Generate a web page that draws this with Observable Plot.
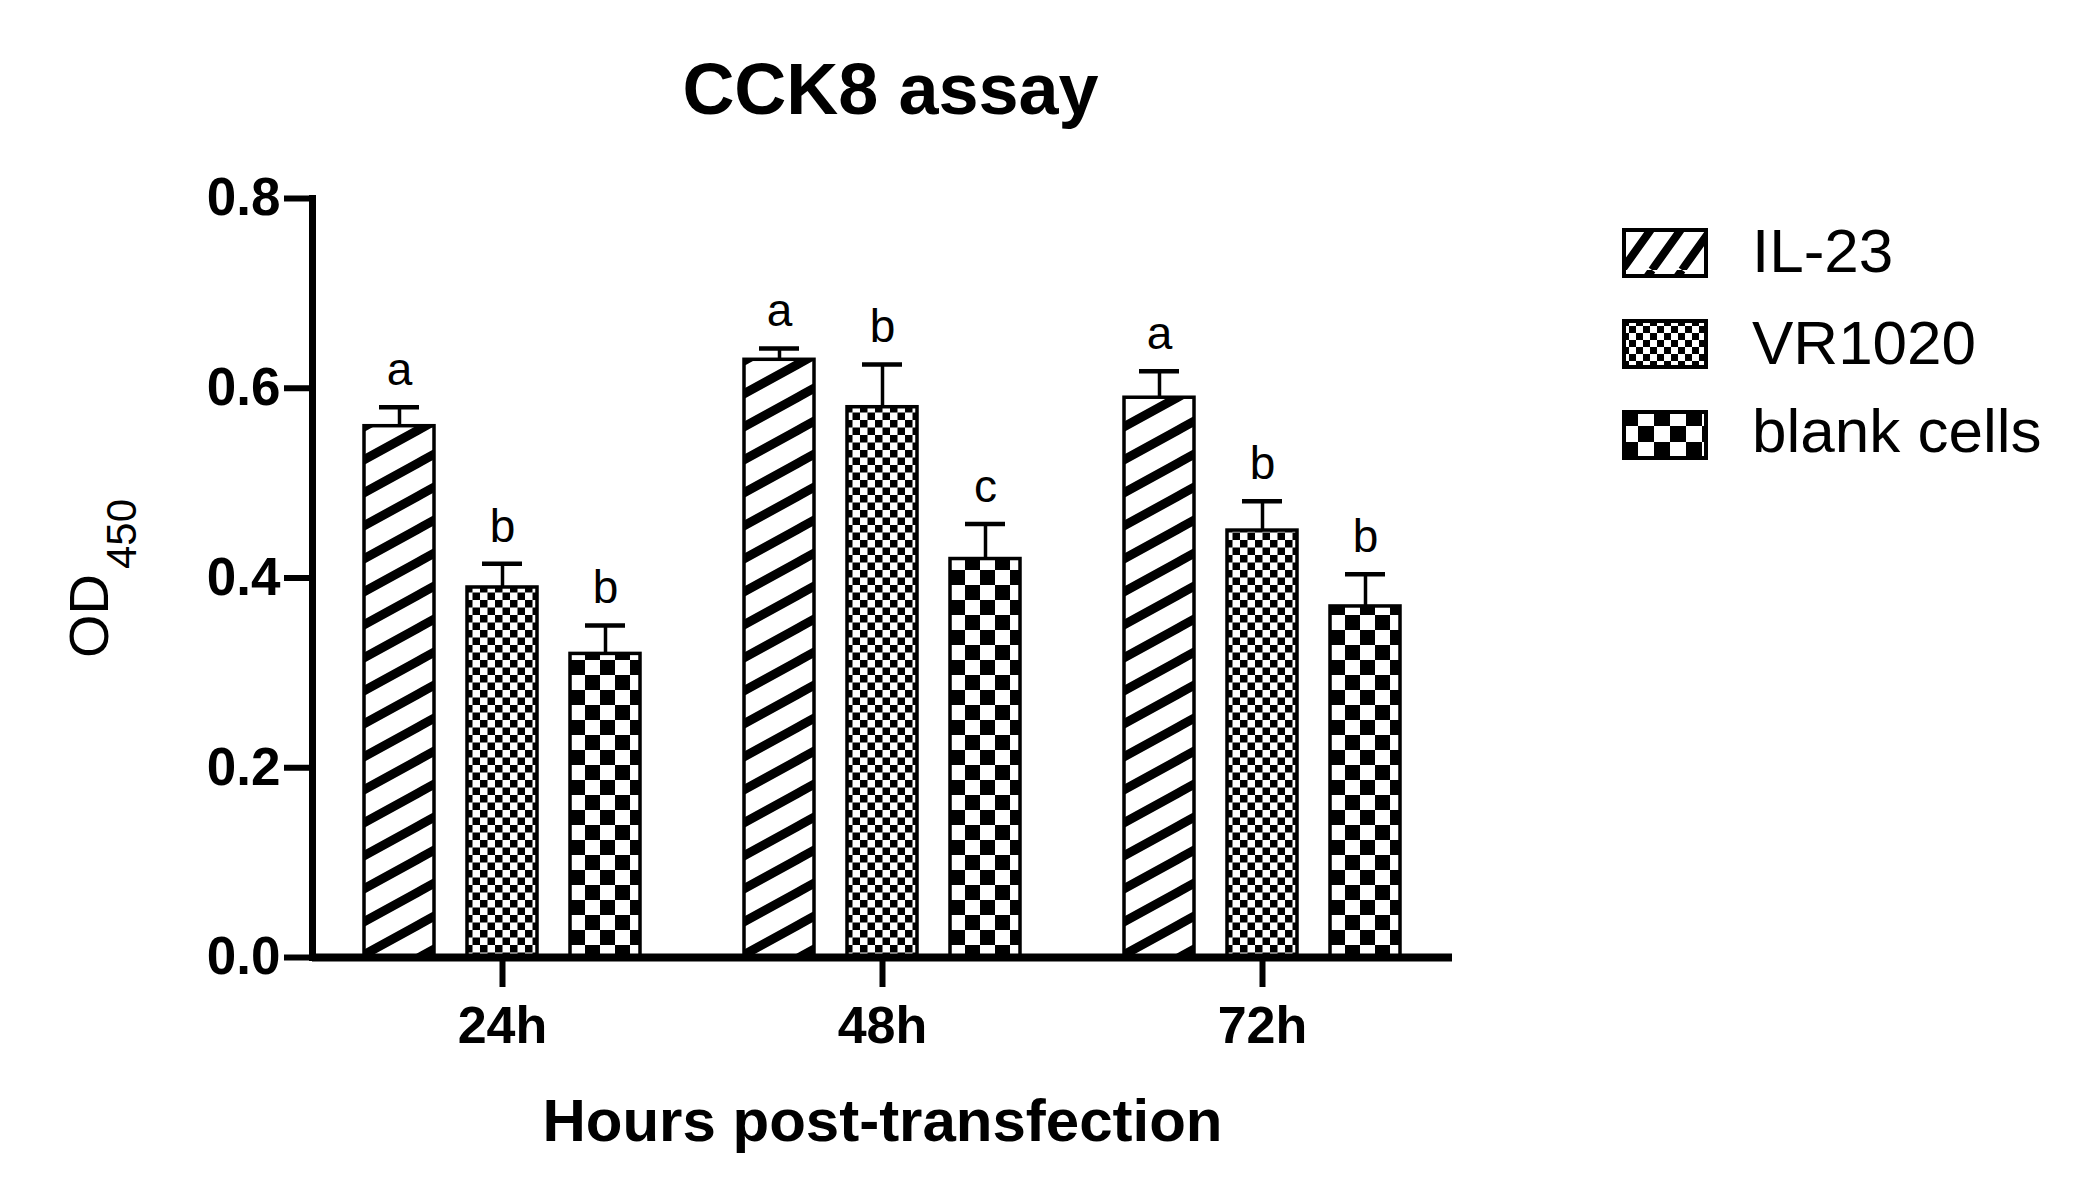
<!DOCTYPE html>
<html>
<head>
<meta charset="utf-8">
<script src="https://cdn.jsdelivr.net/npm/d3@7"></script>
<script src="https://cdn.jsdelivr.net/npm/@observablehq/plot@0.6"></script>
<style>
  html, body { margin: 0; padding: 0; background: #fff; }
  #wrap { position: relative; width: 2079px; height: 1204px; background: #fff;
          font-family: "Liberation Sans", Arial, Helvetica, sans-serif; color: #000; }
  #wrap > svg { position: absolute; left: 0; top: 0; }
  .leg-swatch { position: absolute; }
  .leg-text { position: absolute; font-size: 62px; line-height: 62px; white-space: nowrap; }
</style>
</head>
<body>
<div id="wrap"></div>
<script>
// ---------------- data ----------------
const titleText = "CCK8 assay";
const xLabel = "Hours post-transfection";
const yLabelMain = "OD";
const yLabelSub = "450";
const times = ["24h", "48h", "72h"];
const groups = ["IL-23", "VR1020", "blank cells"];
const il23Values   = [0.56, 0.63, 0.59];
const vr1020Values = [0.39, 0.58, 0.45];
const blankValues  = [0.32, 0.42, 0.37];
const il23Errors   = [0.020, 0.012, 0.028];
const vr1020Errors = [0.025, 0.045, 0.031];
const blankErrors  = [0.030, 0.037, 0.034];
const il23Letters   = ["a", "a", "a"];
const vr1020Letters = ["b", "b", "b"];
const blankLetters  = ["b", "c", "b"];
const yTicks = [0, 0.2, 0.4, 0.6, 0.8];

// ---------------- table ----------------
const seriesValues = [il23Values, vr1020Values, blankValues];
const seriesErrors = [il23Errors, vr1020Errors, blankErrors];
const seriesLetters = [il23Letters, vr1020Letters, blankLetters];
const rows = [];
times.forEach((t, i) => groups.forEach((g, j) => rows.push({
  time: t, group: g, value: seriesValues[j][i], err: seriesErrors[j][i], sig: seriesLetters[j][i]
})));

const patternIds = ["pHatch", "pFine", "pCheck"];
const legendPatternIds = ["lHatch", "lFine", "lCheck"];
const font = '"Liberation Sans", Arial, Helvetica, sans-serif';

const chart = Plot.plot({
  width: 2079,
  height: 1204,
  marginLeft: 312,
  marginRight: 627,
  marginTop: 198,
  marginBottom: 247,
  style: {fontFamily: font, background: "#fff", color: "#000", overflow: "visible"},
  fx: {domain: times, paddingInner: 0, paddingOuter: 0},
  x: {domain: groups, paddingInner: 0.324, paddingOuter: 0.4976, axis: null},
  y: {domain: [0, 0.8]},
  color: {domain: groups, range: patternIds.map(id => `url(#${id})`)},
  marks: [
    Plot.barY(rows, {fx: "time", x: "group", y: "value", fill: "group", stroke: "#000", strokeWidth: 3.5}),
    Plot.ruleX(rows, {fx: "time", x: "group", y1: "value", y2: d => d.value + d.err, stroke: "#000", strokeWidth: 3.5}),
    Plot.tickY(rows, {fx: "time", x: "group", y: d => d.value + d.err, stroke: "#000", strokeWidth: 4.5, insetLeft: 15, insetRight: 15}),
    Plot.text(rows, {fx: "time", x: "group", y: d => d.value + d.err, text: "sig", dy: -37, fontSize: 46,
                     fill: "#000", fontFamily: font, textAnchor: "middle", lineAnchor: "middle"}),
    Plot.ruleY([0], {stroke: "#000", strokeWidth: 8}),
    Plot.frame({anchor: "left", facetAnchor: "left", stroke: "#000", strokeWidth: 7}),
    Plot.axisY({ticks: yTicks, tickFormat: d => d.toFixed(1), tickSize: 28, tickPadding: 4,
                fontSize: 53, fontWeight: "bold", strokeWidth: 6, label: null, fontFamily: font}),
    Plot.axisFx({anchor: "bottom", tickSize: 30, tickPadding: 19, fontSize: 52, fontWeight: "bold",
                 strokeWidth: 6, label: null, fontFamily: font}),
    Plot.text([titleText], {facet: "super", frameAnchor: "top", text: d => d, dx: 8, dy: -108,
                            textAnchor: "middle", lineAnchor: "middle",
                            fontSize: 72, fontWeight: "bold", fontFamily: font}),
    Plot.text([xLabel], {facet: "super", frameAnchor: "bottom", text: d => d, dy: 164,
                         textAnchor: "middle", lineAnchor: "middle",
                         fontSize: 60, fontWeight: "bold", fontFamily: font}),
    Plot.text([yLabelMain], {facet: "super", frameAnchor: "left", text: d => d, rotate: -90,
                             textAnchor: "middle", lineAnchor: "middle",
                             dx: -222, dy: 38, fontSize: 56, fontFamily: font}),
    Plot.text([yLabelSub], {facet: "super", frameAnchor: "left", text: d => d, rotate: -90,
                            textAnchor: "middle", lineAnchor: "middle",
                            dx: -190, dy: -44, fontSize: 42, fontFamily: font})
  ]
});

// pattern definitions
const defs = document.createElementNS("http://www.w3.org/2000/svg", "defs");
defs.innerHTML = `
  <pattern id="pHatch" patternUnits="userSpaceOnUse" width="60" height="33">
    <rect width="60" height="33" fill="#fff"/>
    <path d="M0,33L60,0M-60,33L0,0M60,33L120,0M0,66L60,33M0,0L60,-33" stroke="#000" stroke-width="9" fill="none"/>
  </pattern>
  <pattern id="pFine" patternUnits="userSpaceOnUse" width="15" height="15">
    <rect width="15" height="15" fill="#fff"/>
    <rect x="0" y="0" width="7.5" height="7.5" fill="#000"/>
    <rect x="7.5" y="7.5" width="7.5" height="7.5" fill="#000"/>
  </pattern>
  <pattern id="pCheck" patternUnits="userSpaceOnUse" width="30" height="30">
    <rect width="30" height="30" fill="#fff"/>
    <rect x="0" y="0" width="15" height="15" fill="#000"/>
    <rect x="15" y="15" width="15" height="15" fill="#000"/>
  </pattern>
  <pattern id="lHatch" patternUnits="userSpaceOnUse" width="30" height="42">
    <rect width="30" height="42" fill="#fff"/>
    <path d="M0,42L30,0M-30,42L0,0M30,42L60,0" stroke="#000" stroke-width="8" fill="none"/>
  </pattern>
  <pattern id="lFine" patternUnits="userSpaceOnUse" width="14" height="14">
    <rect width="14" height="14" fill="#fff"/>
    <rect x="0" y="0" width="7" height="7" fill="#000"/>
    <rect x="7" y="7" width="7" height="7" fill="#000"/>
  </pattern>
  <pattern id="lCheck" patternUnits="userSpaceOnUse" width="32" height="32">
    <rect width="32" height="32" fill="#fff"/>
    <rect x="0" y="0" width="16" height="16" fill="#000"/>
    <rect x="16" y="16" width="16" height="16" fill="#000"/>
  </pattern>`;
chart.insertBefore(defs, chart.firstChild);

const wrap = document.getElementById("wrap");
wrap.appendChild(chart);

// legend (HTML, placed over the right side of the page)
groups.forEach((g, i) => {
  const sw = document.createElementNS("http://www.w3.org/2000/svg", "svg");
  sw.setAttribute("class", "leg-swatch");
  sw.setAttribute("width", 86);
  sw.setAttribute("height", 50);
  sw.style.left = "1622px";
  sw.style.top = (228 + 91 * i) + "px";
  sw.innerHTML = `<rect x="2" y="2" width="82" height="46" fill="url(#${legendPatternIds[i]})" stroke="#000" stroke-width="4"/>`;
  wrap.appendChild(sw);
  const tx = document.createElement("div");
  tx.className = "leg-text";
  tx.textContent = g;
  tx.style.left = "1752px";
  tx.style.top = (220 + [0, 92, 180][i]) + "px";
  wrap.appendChild(tx);
});
</script>
</body>
</html>
